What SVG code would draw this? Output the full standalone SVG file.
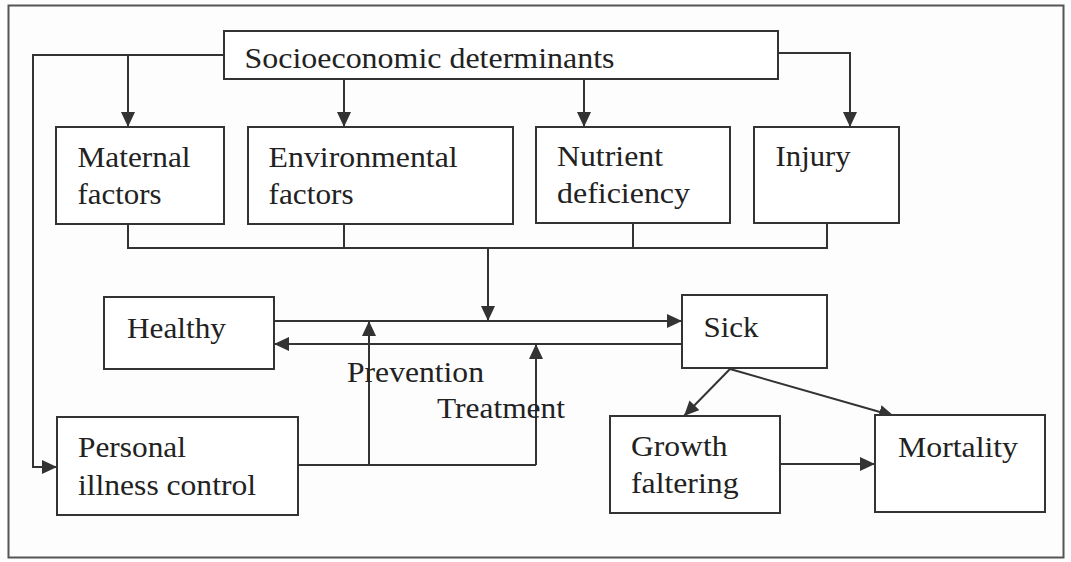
<svg xmlns="http://www.w3.org/2000/svg" width="1071" height="562" viewBox="0 0 1071 562">
<style>
.box{fill:#fff;stroke:#333;stroke-width:2}
.ln{fill:none;stroke:#333;stroke-width:2}
.ar{fill:none;stroke:#333;stroke-width:2;marker-end:url(#ah)}
text{font-family:"Liberation Serif","Times New Roman",serif;font-size:29px;fill:#222}
</style>
<defs>
<marker id="ah" markerUnits="userSpaceOnUse" markerWidth="16" markerHeight="14" refX="15" refY="7" orient="auto">
<path d="M0,0 L15,7 L0,14 Z" fill="#333"/>
</marker>
</defs>
<rect x="0" y="0" width="1071" height="562" fill="#fdfdfd"/>
<rect x="8.5" y="5.5" width="1055" height="552" fill="none" stroke="#555" stroke-width="2"/>
<g id="connectors">
<path class="ar" d="M224,55 H33 V467 H57"/>
<path class="ar" d="M128,55 V127"/>
<path class="ar" d="M344,79 V127"/>
<path class="ar" d="M584,79 V127"/>
<path class="ar" d="M778,53 H850 V127"/>
<path class="ln" d="M128,224 V248 H827 V223"/>
<path class="ln" d="M344,224 V248"/>
<path class="ln" d="M633,223 V248"/>
<path class="ar" d="M488,248 V321"/>
<path class="ar" d="M274,321 H682"/>
<path class="ar" d="M682,344 H274"/>
<path class="ln" d="M298,465 H536"/>
<path class="ar" d="M369,465 V321"/>
<path class="ar" d="M536,465 V344"/>
<path class="ar" d="M730,369 L684,416"/>
<path class="ar" d="M730,369 L894,416"/>
<path class="ar" d="M780,464 H875"/>
</g>
<g id="socioeconomic">
<rect class="box" x="224" y="31" width="554" height="48"/>
<text x="244.5" y="68" textLength="370" lengthAdjust="spacingAndGlyphs">Socioeconomic determinants</text>
</g>
<g id="maternal">
<rect class="box" x="56" y="127" width="168" height="97"/>
<text x="77.5" y="167" textLength="113" lengthAdjust="spacingAndGlyphs">Maternal</text>
<text x="77.5" y="204" textLength="84" lengthAdjust="spacingAndGlyphs">factors</text>
</g>
<g id="environmental">
<rect class="box" x="248" y="127" width="265" height="97"/>
<text x="268.6" y="167" textLength="189" lengthAdjust="spacingAndGlyphs">Environmental</text>
<text x="268.6" y="204" textLength="85" lengthAdjust="spacingAndGlyphs">factors</text>
</g>
<g id="nutrient">
<rect class="box" x="536" y="127" width="194" height="96"/>
<text x="557" y="166" textLength="106" lengthAdjust="spacingAndGlyphs">Nutrient</text>
<text x="557" y="203" textLength="133" lengthAdjust="spacingAndGlyphs">deficiency</text>
</g>
<g id="injury">
<rect class="box" x="754" y="127" width="145" height="96"/>
<text x="775.6" y="166" textLength="75" lengthAdjust="spacingAndGlyphs">Injury</text>
</g>
<g id="healthy">
<rect class="box" x="104" y="297" width="170" height="72"/>
<text x="127" y="338" textLength="99" lengthAdjust="spacingAndGlyphs">Healthy</text>
</g>
<g id="sick">
<rect class="box" x="682" y="295" width="145" height="73"/>
<text x="703.5" y="337" textLength="55" lengthAdjust="spacingAndGlyphs">Sick</text>
</g>
<g id="labels">
<text x="347" y="382" textLength="137" lengthAdjust="spacingAndGlyphs">Prevention</text>
<text x="437" y="418" textLength="128" lengthAdjust="spacingAndGlyphs">Treatment</text>
</g>
<g id="personal">
<rect class="box" x="57" y="417" width="241" height="98"/>
<text x="78" y="457" textLength="108" lengthAdjust="spacingAndGlyphs">Personal</text>
<text x="78" y="495" textLength="178" lengthAdjust="spacingAndGlyphs">illness control</text>
</g>
<g id="growth">
<rect class="box" x="610" y="416" width="170" height="97"/>
<text x="631" y="456" textLength="96.5" lengthAdjust="spacingAndGlyphs">Growth</text>
<text x="631" y="493" textLength="107.5" lengthAdjust="spacingAndGlyphs">faltering</text>
</g>
<g id="mortality">
<rect class="box" x="875" y="415" width="170" height="97"/>
<text x="898" y="457" textLength="120" lengthAdjust="spacingAndGlyphs">Mortality</text>
</g>
</svg>
